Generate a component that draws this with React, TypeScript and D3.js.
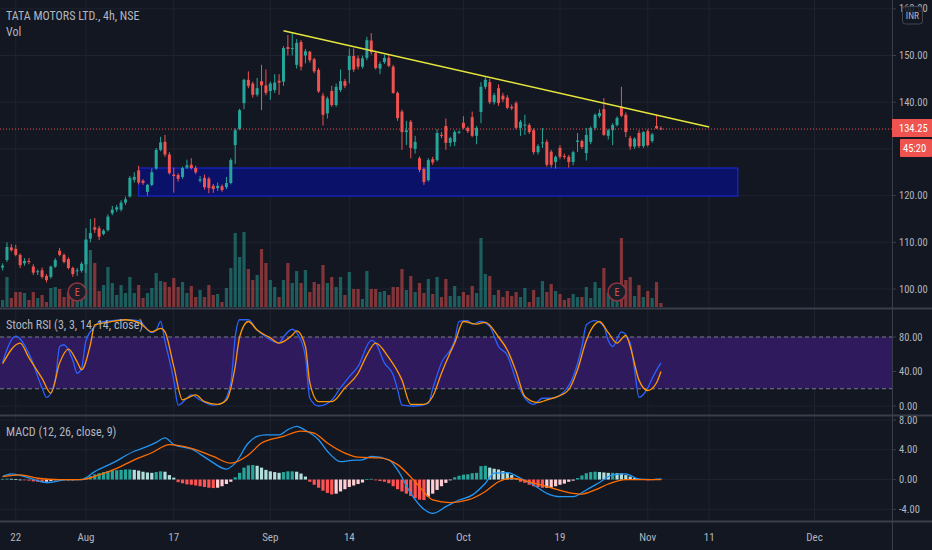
import * as d3 from "d3";

const W = 932;
const H = 550;
const PLOT_W = 892;

const BG = "#131722";
const GRID = "#1f2330";
const SEP = "#3a3e4a";
const TEXT = "#b2b5be";
const UP = "#26a69a";
const DOWN = "#ef5350";
const FONT = "'Liberation Sans Narrow', 'Roboto Condensed', Roboto, sans-serif";

// OHLC per 4h bar (bar 0 = Jul 20)
const candles: [number, number, number, number][] = [
  [105.5, 106, 104.5, 104.8], [104.6, 105.5, 104, 105], [106.2, 110, 105.8, 109], [108.9, 109.6, 108, 108.3],
  [108.6, 109.5, 107, 107.3], [107.3, 107.6, 104.5, 105.1], [105.5, 106.6, 105, 106], [106, 106.6, 105.3, 105.8],
  [104.8, 105.3, 103, 103.5], [103.6, 104.2, 103, 103.8], [104, 104.6, 102.2, 102.6], [102.8, 103.2, 101.4, 101.9],
  [102.6, 105, 102.2, 104.8], [104.8, 106.6, 104.5, 106.2], [108.2, 108.8, 107, 107.3], [107.3, 107.6, 105.5, 105.8],
  [106.4, 106.8, 104.2, 104.5], [104.5, 104.8, 102.6, 103.2], [103.8, 104.5, 102.8, 104], [103.9, 105.8, 103.5, 105.4],
  [105.3, 113, 103.4, 110.6], [110.8, 115, 110, 112], [113.2, 115.2, 112, 112.7], [113, 113.5, 110.5, 111.2],
  [111.8, 112.8, 111.5, 112.5], [112.6, 116, 112.3, 115.5], [116.2, 117.8, 115.8, 117], [117, 118, 116.5, 117.5],
  [117, 119, 116.6, 118.5], [118.5, 119.8, 118, 119.2], [119.8, 124.2, 119.6, 123.8], [123.4, 125, 122.8, 124],
  [125.4, 126.4, 122.4, 122.8], [123.2, 123.5, 122.3, 122.7], [120.8, 122.5, 120, 122.3], [122.3, 125.8, 122, 125],
  [125.8, 130.2, 125.5, 129.8], [129.8, 132.6, 129.5, 131.4], [131.5, 133, 128.3, 128.8], [128.8, 129.3, 124.5, 124.8],
  [124.5, 126, 120.6, 124.2], [124.4, 124.8, 123, 123.6], [124, 126.2, 123.6, 125.9], [126, 127.7, 125.7, 126.5],
  [126.6, 128, 125.6, 125.9], [125.9, 126.4, 124.6, 125], [123.2, 124.2, 122.8, 123.5], [123.8, 124.5, 121.3, 121.8],
  [123.6, 124, 120.5, 121.6], [122.1, 122.5, 120.6, 121.4], [121.6, 122.8, 121, 122.1], [122, 122.4, 120.8, 121.2],
  [121.8, 124, 121.4, 122.7], [122.7, 128, 122.4, 127.6], [130.8, 134.4, 126.8, 134], [134.3, 138.6, 134, 138.3],
  [139.8, 145, 138.5, 144.8], [144.8, 146.6, 143, 143.5], [144, 144.4, 141, 141.6], [141.6, 145.2, 141.2, 143],
  [144.5, 148, 138.3, 143.6], [143.6, 147, 141.5, 142], [142.4, 144.4, 140.5, 144], [142.6, 146, 142, 144.2],
  [144.6, 146, 141.6, 144.2], [144.4, 152, 143.5, 151.6], [151.8, 154.4, 150, 151.4], [151.4, 155, 150, 151.6],
  [148, 153.5, 147.2, 152.7], [152.9, 153.3, 146.8, 147.6], [150, 151.4, 148.3, 150.9], [150.8, 151, 148.5, 149],
  [149.2, 149.5, 146.2, 146.6], [146.9, 147.3, 142, 142.3], [141.4, 142, 135, 137.3], [137.6, 141.2, 136.5, 140.8],
  [142.4, 143.5, 139, 139.4], [139.4, 144, 139, 143.3], [142.6, 147, 142.2, 144.5], [144.5, 145, 143, 143.5],
  [146.9, 151.5, 144, 149.9], [149.9, 151.5, 146.5, 147], [149.4, 150, 147, 147.6], [147.6, 150, 147.2, 149.4],
  [149.5, 154, 149, 153.3], [153.2, 154.8, 150.2, 150.7], [150.5, 151, 147, 147.3], [147.2, 148.7, 146, 148.2],
  [148.6, 150.2, 148.2, 149.5], [149.5, 150.3, 147.5, 147.8], [147.6, 148, 141.8, 142], [142, 142.3, 136, 136.6],
  [138, 138.4, 129.8, 133.6], [133.6, 136, 130.8, 134], [135.8, 136.2, 128, 130.2], [130, 132.8, 129, 131.5],
  [128, 128.4, 125, 125.5], [125.7, 126, 122.3, 122.9], [123.3, 128, 123, 127.6], [127.8, 128.3, 126.6, 127.1],
  [127.6, 134.2, 127.3, 133.4], [133, 133.6, 132.3, 132.8], [134.9, 136.5, 129.8, 131.3], [131.3, 132.6, 130.5, 132.3],
  [131.5, 134, 130.6, 133.6], [133.5, 133.9, 133.2, 133.7], [135.6, 137, 134.2, 134.5], [134.5, 134.8, 133.4, 133.8],
  [136.8, 138, 132.5, 132.8], [132.8, 134.9, 131, 134.5], [137.9, 144.3, 135.5, 143.3], [143.3, 145.5, 142.8, 144.8],
  [144.3, 145, 139.6, 140], [140, 142, 139.5, 141.5], [143, 143.8, 139.2, 139.8], [141.4, 142, 140, 140.6],
  [141, 141.5, 138.5, 138.8], [139, 139.5, 138.3, 138.7], [139.8, 140.2, 134.2, 134.5], [134.5, 136.2, 132.8, 135.8],
  [135, 137.3, 133, 135.2], [135.1, 135.5, 133.2, 133.6], [134, 134.4, 128.8, 129.3], [129.3, 131, 128.8, 130.6],
  [131.2, 134.5, 130.2, 131.4], [131.5, 132, 126.2, 126.6], [129.4, 129.8, 126, 126.6], [127.2, 128.6, 125.8, 128.3],
  [130.2, 130.8, 127.8, 128.3], [128.5, 129, 127.8, 128.3], [128.3, 128.7, 126, 127.2], [127.2, 129.6, 126.5, 129.3],
  [131.5, 133.4, 129.3, 131.8], [131.7, 132, 130, 130.4], [129.1, 134.5, 127.5, 133], [131.5, 134.8, 131, 134.5],
  [134.5, 137.6, 134, 137.3], [137, 138.5, 136.6, 137.7], [138.5, 140.9, 132.8, 133], [132.8, 134.3, 132, 134],
  [134, 135.5, 130.8, 135.1], [135.1, 137, 134.8, 136.6], [139, 143.3, 136.8, 137.1], [137.3, 137.8, 132.5, 133.6],
  [132.3, 132.8, 129.8, 130.5], [130.5, 132.5, 130, 132.2], [133.4, 134, 130.2, 130.6], [130.6, 133.8, 130.2, 133.6],
  [133.8, 134.2, 130.5, 130.8], [131.7, 133.4, 131.3, 133.1], [134.9, 137.3, 134.3, 134.4], [134.4, 134.8, 134, 134.25],
];

// volume in millions
const volume = [
  10, 7, 30, 9, 15, 15, 14, 7, 15, 9, 12, 5, 19, 20, 18, 10, 15, 12, 10, 15,
  67, 57, 44, 16, 22, 40, 24, 12, 22, 14, 30, 14, 22, 9, 14, 19, 34, 26, 25, 20,
  29, 20, 25, 14, 21, 10, 17, 10, 22, 12, 13, 5, 19, 39, 74, 50, 75, 38, 27, 32,
  58, 44, 27, 20, 10, 27, 44, 24, 36, 24, 37, 15, 25, 23, 42, 24, 30, 20, 30, 12,
  35, 18, 18, 8, 36, 18, 18, 15, 16, 12, 20, 20, 38, 17, 31, 15, 24, 14, 28, 13,
  30, 10, 28, 11, 21, 11, 15, 12, 21, 14, 69, 33, 31, 12, 17, 10, 16, 11, 15, 10,
  19, 5, 17, 10, 26, 15, 23, 16, 13, 7, 9, 13, 10, 10, 20, 9, 25, 19, 39, 14,
  20, 14, 69, 27, 30, 11, 22, 10, 16, 9, 25, 4,
];

// Stoch RSI %K / %D as [bar, value]
const stochK: [number, number][] = [
  [1, 51], [4, 81], [7, 61], [10, 21], [11, 10], [13, 30], [14, 69], [15, 71], [17, 53], [18, 38], [19, 44],
  [20, 76], [22, 92], [23, 97], [26, 99], [29, 100], [32, 99], [35, 85], [36, 88], [37, 98], [38, 75], [40, 30],
  [41, 1], [43, 9], [44, 13], [46, 7], [49, 1], [51, 3], [53, 27], [54, 80], [55, 100], [57, 100], [59, 88],
  [61, 80], [64, 73], [65, 80], [67, 89], [68, 85], [70, 57], [71, 9], [73, 0], [76, 7], [78, 21], [80, 34],
  [82, 46], [85, 76], [86, 73], [88, 50], [90, 36], [91, 19], [92, 1], [95, 0], [98, 3], [99, 20], [101, 50],
  [104, 76], [105, 98], [107, 99], [108, 95], [110, 98], [112, 92], [114, 69], [116, 59], [118, 30], [120, 9],
  [122, 2], [124, 9], [126, 9], [129, 17], [131, 34], [133, 69], [134, 94], [136, 99], [138, 92], [139, 76],
  [140, 69], [142, 86], [144, 73], [145, 42], [146, 10], [148, 21], [149, 32], [151, 50],
];
const stochD: [number, number][] = [
  [1, 49], [5, 73], [7, 56], [10, 32], [12, 15], [14, 50], [16, 66], [18, 51], [19, 42], [21, 71], [22, 94],
  [25, 97], [29, 100], [32, 97], [35, 86], [37, 90], [38, 86], [40, 46], [42, 7], [43, 9], [45, 13], [47, 5],
  [50, 2], [52, 7], [54, 46], [55, 80], [57, 98], [59, 88], [62, 79], [64, 73], [67, 82], [68, 87], [70, 69],
  [71, 27], [73, 5], [76, 5], [79, 21], [82, 38], [84, 59], [86, 73], [89, 56], [92, 30], [94, 2], [97, 2],
  [99, 11], [101, 38], [103, 62], [104, 73], [106, 98], [109, 95], [111, 97], [114, 80], [116, 65], [118, 40],
  [120, 11], [123, 4], [125, 7], [127, 10], [130, 19], [132, 42], [134, 76], [136, 95], [137, 98], [139, 85],
  [141, 73], [143, 82], [144, 69], [146, 30], [148, 18], [150, 27], [151, 40],
];

// MACD line / signal as [bar, value]
const macdLine: [number, number][] = [
  [1, 0.4], [3, 0.76], [6, 0.4], [11, -0.4], [16, 0], [19, 0], [22, 1.07], [26, 2.2], [31, 3.8], [34, 4.45],
  [36, 5.0], [38, 5.6], [40, 4.7], [44, 4.1], [48, 2.65], [52, 1.4], [54, 2.2], [57, 4.9], [59, 5.8], [61, 6.0],
  [64, 6.0], [66, 6.7], [68, 7.15], [70, 6.6], [73, 5.35], [75, 3.8], [78, 2.4], [80, 2.55], [83, 2.65],
  [85, 3.1], [89, 2.65], [91, 1.3], [94, -1.85], [97, -4.0], [99, -4.55], [102, -3.65], [105, -2.75],
  [108, -2.1], [111, -0.5], [113, 0.85], [116, 0.93], [119, 0.17], [122, -0.73], [125, -1.85], [128, -2.3],
  [131, -2.3], [134, -1.4], [137, -0.4], [140, 0.62], [143, 0.76], [146, 0.05], [149, 0], [151, 0.1],
];
const macdSignal: [number, number][] = [
  [1, 0.4], [5, 0.62], [9, 0.17], [14, 0], [19, 0], [23, 0.62], [27, 1.5], [31, 2.65], [35, 3.6], [39, 4.7],
  [44, 4.2], [49, 3.1], [53, 2.2], [57, 3.3], [60, 4.9], [65, 5.8], [69, 6.5], [72, 6.25], [75, 4.9],
  [79, 3.55], [82, 3.0], [87, 2.9], [91, 2.0], [95, -0.3], [98, -2.3], [99, -2.75], [103, -3.1], [107, -2.75],
  [111, -1.6], [114, -0.3], [117, 0.17], [121, -0.3], [125, -0.95], [130, -1.75], [133, -1.95], [136, -1.4],
  [139, -0.6], [143, 0], [148, 0], [151, 0],
];
const macdHist = [
  0.05, 0.1, 0.12, 0.1, 0.05, 0, -0.05, -0.15, -0.25, -0.3, -0.35, -0.3, -0.2, -0.1, -0.05, -0.08, -0.05, -0.02, 0.02, 0.1,
  0.25, 0.45, 0.7, 0.85, 1.0, 1.15, 1.25, 1.25, 1.3, 1.35, 1.35, 1.3, 1.2, 1.05, 0.95, 0.9, 1.0, 1.1, 1.05, 0.6,
  0.25, -0.35, -0.5, -0.65, -0.7, -0.8, -0.9, -1.0, -1.1, -1.15, -1.1, -0.9, -0.6, -0.3, 0.3, 0.9, 1.6, 1.9, 1.95, 1.85,
  1.6, 1.3, 1.1, 1.0, 0.9, 1.0, 1.1, 1.1, 1.05, 0.8, 0.4, -0.3, -0.7, -1.1, -1.5, -1.8, -2.0, -1.9, -1.6, -1.3,
  -1.0, -0.8, -0.6, -0.4, 0.05, 0.1, -0.1, -0.2, -0.3, -0.5, -0.9, -1.3, -1.6, -1.9, -2.2, -2.5, -2.7, -2.75, -2.3, -1.9,
  -1.4, -0.9, -0.45, -0.1, 0.3, 0.5, 0.65, 0.7, 0.85, 0.9, 1.8, 1.85, 1.6, 1.45, 1.35, 1.15, 0.95, 0.6, 0.2, -0.3,
  -0.45, -0.7, -0.9, -1.0, -1.1, -1.1, -1.1, -0.9, -0.7, -0.55, -0.3, -0.15, 0.2, 0.55, 0.85, 1.0, 1.05, 1.0, 0.95, 0.9,
  0.9, 0.85, 0.8, 0.6, 0.4, 0.2, 0.1, 0.05, -0.05, 0.05, 0.1, 0.1,
];

const dateTicks: [number, string][] = [
  [4, "22"], [20, "Aug"], [40, "17"], [62, "Sep"], [80, "14"], [106, "Oct"], [128, "19"], [148, "Nov"], [162, "11"], [186, "Dec"],
];
const priceGrid = [100, 110, 120, 130, 140, 150, 160];
// 130.00 sits under the countdown box in the reference, so it gets no label
const priceLabels = [100, 110, 120, 140, 150, 160];
const stochTicks = [0, 40, 80];
const macdTicks = [-4, 0, 4, 8];
const earningsBars = [18, 141];
const trendLine: [number, number][] = [[65, 155.3], [162, 134.7]];
const supportZone = { from: 32, to: 168.5, low: 119.9, high: 125.9 };
const lastPrice = 134.25;

export default function App() {
  const x = d3.scaleLinear().domain([0.41, 203.65]).range([0, PLOT_W]);
  const yP = d3.scaleLinear().domain([100, 150]).range([289, 55.5]);
  const yV = d3.scaleLinear().domain([0, 100]).range([307, 207]);
  const yS = d3.scaleLinear().domain([0, 80]).range([406, 337]);
  const yM = d3.scaleLinear().domain([-4, 8]).range([509.3, 420]);

  const sLine = d3.line<[number, number]>().x((d) => x(d[0])).y((d) => yS(d[1])).curve(d3.curveMonotoneX);
  const mLine = d3.line<[number, number]>().x((d) => x(d[0])).y((d) => yM(d[1])).curve(d3.curveMonotoneX);

  const histColor = (v: number, prev: number) =>
    v >= 0 ? (v >= prev ? "#26a69a" : "#b2dfdb") : v < prev ? "#ff5252" : "#ffcdd2";

  const axisLabel = (y: number, txt: string, key: string) => (
    <g key={key}>
      <line x1={PLOT_W} x2={PLOT_W + 4} y1={y} y2={y} stroke={SEP} />
      <text x={899} y={y + 3.5} fontSize={10.5} fill={TEXT} fontFamily={FONT}>{txt}</text>
    </g>
  );

  return (
    <svg width={W} height={H} style={{ position: "absolute", left: 0, top: 0, display: "block" }}>
      <defs>
        <clipPath id="clipMain"><rect x={0} y={0} width={PLOT_W} height={308} /></clipPath>
        <clipPath id="clipStoch"><rect x={0} y={309} width={PLOT_W} height={106} /></clipPath>
        <clipPath id="clipMacd"><rect x={0} y={416} width={PLOT_W} height={105} /></clipPath>
      </defs>
      <rect width={W} height={H} fill={BG} />

      {/* grid */}
      {dateTicks.map(([i]) => (
        <line key={"vg" + i} x1={x(i)} x2={x(i)} y1={0} y2={521} stroke={GRID} />
      ))}
      {priceGrid.map((p) => (
        <line key={"pg" + p} x1={0} x2={PLOT_W} y1={yP(p)} y2={yP(p)} stroke={GRID} />
      ))}
      {stochTicks.map((v) => (
        <line key={"sg" + v} x1={0} x2={PLOT_W} y1={yS(v)} y2={yS(v)} stroke={GRID} />
      ))}
      {macdTicks.map((v) => (
        <line key={"mg" + v} x1={0} x2={PLOT_W} y1={yM(v)} y2={yM(v)} stroke={GRID} />
      ))}

      {/* main pane */}
      <g clipPath="url(#clipMain)">
        {volume.map((v, i) => {
          const [o, , , c] = candles[i];
          return (
            <rect key={"v" + i} x={x(i) - 1.6} width={3.2} y={yV(v)} height={yV(0) - yV(v)}
              fill={c >= o ? UP : DOWN} fillOpacity={0.5} />
          );
        })}
        <rect x={x(supportZone.from)} width={x(supportZone.to) - x(supportZone.from)}
          y={yP(supportZone.high)} height={yP(supportZone.low) - yP(supportZone.high)}
          fill="#0a1168" stroke="#1822b4" strokeWidth={1.5} />
        {candles.map(([o, h, l, c], i) => {
          const col = c >= o ? UP : DOWN;
          const top = yP(Math.max(o, c));
          const bh = Math.max(1, Math.abs(yP(o) - yP(c)));
          return (
            <g key={"c" + i}>
              <line x1={x(i)} x2={x(i)} y1={yP(h)} y2={yP(l)} stroke={col} strokeWidth={1} />
              <rect x={x(i) - 1.5} width={3} y={top} height={bh} fill={col} />
            </g>
          );
        })}
        <line x1={x(trendLine[0][0])} y1={yP(trendLine[0][1])} x2={x(trendLine[1][0])} y2={yP(trendLine[1][1])}
          stroke="#e6e63c" strokeWidth={1.5} />
        <line x1={0} x2={PLOT_W} y1={yP(lastPrice)} y2={yP(lastPrice)} stroke={DOWN} strokeDasharray="1,2" />
        {earningsBars.map((i) => (
          <g key={"e" + i}>
            <circle cx={x(i)} cy={292} r={9} fill="#1b1e29" stroke="#8e3640" strokeWidth={1.5} />
            <text x={x(i)} y={296} textAnchor="middle" fontSize={10} fill="#d0585a" fontFamily={FONT}>E</text>
          </g>
        ))}
      </g>

      {/* stoch rsi pane */}
      <g clipPath="url(#clipStoch)">
        <rect x={0} width={PLOT_W} y={yS(80)} height={yS(20) - yS(80)} fill="#2f1a5e" />
        <line x1={0} x2={PLOT_W} y1={yS(80)} y2={yS(80)} stroke="#787b86" strokeDasharray="4,3" />
        <line x1={0} x2={PLOT_W} y1={yS(20)} y2={yS(20)} stroke="#787b86" strokeDasharray="4,3" />
        <path d={sLine(stochK) || ""} fill="none" stroke="#2962ff" strokeWidth={1.3} />
        <path d={sLine(stochD) || ""} fill="none" stroke="#ff9800" strokeWidth={1.3} />
      </g>

      {/* macd pane */}
      <g clipPath="url(#clipMacd)">
        {macdHist.map((v, i) => (
          <rect key={"h" + i} x={x(i) - 1.6} width={3.2} y={Math.min(yM(v), yM(0))}
            height={Math.max(0.8, Math.abs(yM(v) - yM(0)))} fill={histColor(v, i > 0 ? macdHist[i - 1] : 0)} />
        ))}
        <path d={mLine(macdLine) || ""} fill="none" stroke="#2196f3" strokeWidth={1.3} />
        <path d={mLine(macdSignal) || ""} fill="none" stroke="#ff6d00" strokeWidth={1.3} />
      </g>

      {/* separators and axis lines */}
      <line x1={0} x2={W} y1={308.5} y2={308.5} stroke={SEP} strokeWidth={2} />
      <line x1={0} x2={W} y1={415.5} y2={415.5} stroke={SEP} strokeWidth={2} />
      <line x1={0} x2={W} y1={521.5} y2={521.5} stroke={SEP} strokeWidth={2} />
      <line x1={PLOT_W + 0.5} x2={PLOT_W + 0.5} y1={0} y2={H} stroke={SEP} />

      {/* price axis */}
      {priceLabels.map((p) => axisLabel(yP(p), p.toFixed(2), "pl" + p))}
      {stochTicks.map((v) => axisLabel(yS(v), v.toFixed(2), "sl" + v))}
      {macdTicks.map((v) => axisLabel(yM(v), v.toFixed(2), "ml" + v))}

      <rect x={PLOT_W} y={119} width={W - PLOT_W} height={18} fill={DOWN} />
      <text x={899} y={132} fontSize={10.5} fill="#ffffff" fontFamily={FONT}>{lastPrice.toFixed(2)}</text>
      <rect x={900} y={139} width={W - 900} height={18} fill={DOWN} rx={1} />
      <text x={903} y={152} fontSize={10.5} fill="#ffffff" fontFamily={FONT}>45:20</text>

      <rect x={902.5} y={6.5} width={20} height={17.5} rx={3} fill={BG} fillOpacity={0.85} stroke="#434651" />
      <text x={912.5} y={19} textAnchor="middle" fontSize={9.5} fill={TEXT} fontFamily={FONT}>INR</text>

      {/* time axis */}
      {dateTicks.map(([i, lbl]) => (
        <text key={"dl" + i} x={x(i)} y={541} textAnchor="middle" fontSize={11} fill={TEXT} fontFamily={FONT}>{lbl}</text>
      ))}

      {/* titles */}
      <text x={6} y={20} fontSize={12} fill={TEXT} fontFamily={FONT}>TATA MOTORS LTD., 4h, NSE</text>
      <text x={6} y={36} fontSize={12} fill={TEXT} fontFamily={FONT}>Vol</text>
      <text x={6} y={329} fontSize={12} fill={TEXT} fontFamily={FONT}>Stoch RSI (3, 3, 14, 14, close)</text>
      <text x={6} y={436} fontSize={12} fill={TEXT} fontFamily={FONT}>MACD (12, 26, close, 9)</text>
    </svg>
  );
}
